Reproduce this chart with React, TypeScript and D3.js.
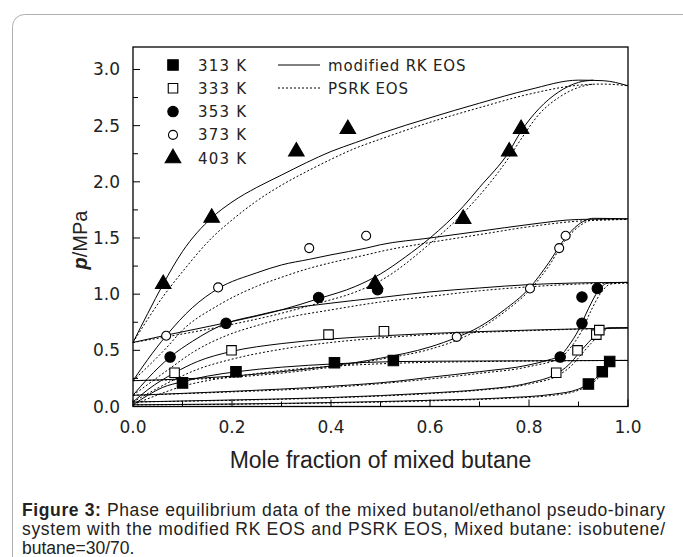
import React from "react";
import * as d3 from "d3";

type Pt = [number, number];

// Experimental data (x: mole fraction of mixed butane, p: MPa)
const exp313: Pt[] = [[0.100,0.21],[0.208,0.31],[0.407,0.39],[0.526,0.41],[0.920,0.20],[0.948,0.31],[0.963,0.40]];
const exp333: Pt[] = [[0.084,0.30],[0.199,0.50],[0.395,0.64],[0.507,0.67],[0.855,0.30],[0.898,0.50],[0.936,0.64],[0.942,0.68]];
const exp353: Pt[] = [[0.075,0.44],[0.188,0.74],[0.375,0.97],[0.494,1.04],[0.863,0.44],[0.907,0.74],[0.907,0.975],[0.938,1.05]];
const exp373: Pt[] = [[0.067,0.63],[0.172,1.06],[0.356,1.41],[0.471,1.52],[0.654,0.62],[0.802,1.05],[0.861,1.41],[0.874,1.52]];
const exp403: Pt[] = [[0.061,1.09],[0.159,1.68],[0.330,2.27],[0.434,2.47],[0.489,1.09],[0.667,1.67],[0.760,2.27],[0.784,2.47]];

// modified RK EOS (solid) - bubble and dew curves
const rk313b: Pt[] = [[0,0.015],[0.03,0.1],[0.06,0.17],[0.1,0.22],[0.15,0.27],[0.21,0.31],[0.3,0.35],[0.41,0.38],[0.53,0.40],[0.7,0.405],[1.0,0.41]];
const rk313d: Pt[] = [[0,0.015],[0.2,0.022],[0.4,0.035],[0.6,0.055],[0.74,0.075],[0.85,0.11],[0.9,0.155],[0.92,0.2],[0.948,0.31],[0.965,0.41],[1.0,0.41]];
const rk333b: Pt[] = [[0,0.04],[0.03,0.15],[0.084,0.30],[0.13,0.40],[0.199,0.49],[0.3,0.56],[0.395,0.60],[0.507,0.63],[0.6,0.65],[0.8,0.68],[1.0,0.70]];
const rk333d: Pt[] = [[0,0.04],[0.2,0.058],[0.4,0.08],[0.6,0.12],[0.7,0.15],[0.8,0.21],[0.855,0.29],[0.88,0.37],[0.9,0.47],[0.92,0.57],[0.94,0.655],[0.96,0.70],[1.0,0.70]];
const rk353b: Pt[] = [[0,0.10],[0.03,0.25],[0.075,0.44],[0.12,0.58],[0.188,0.74],[0.25,0.81],[0.3,0.86],[0.4,0.92],[0.5,0.97],[0.6,1.02],[0.7,1.055],[0.8,1.085],[0.9,1.1],[1.0,1.105]];
const rk353d: Pt[] = [[0,0.10],[0.2,0.135],[0.4,0.18],[0.533,0.225],[0.6,0.26],[0.7,0.31],[0.8,0.37],[0.84,0.415],[0.863,0.45],[0.88,0.54],[0.9,0.68],[0.92,0.87],[0.94,1.03],[0.96,1.1],[1.0,1.105]];
const rk373b: Pt[] = [[0,0.23],[0.03,0.42],[0.067,0.63],[0.12,0.88],[0.172,1.05],[0.25,1.19],[0.3,1.26],[0.356,1.31],[0.4,1.35],[0.471,1.41],[0.5,1.44],[0.6,1.5],[0.7,1.56],[0.8,1.62],[0.9,1.665],[1.0,1.67]];
const rk373d: Pt[] = [[0,0.23],[0.1,0.245],[0.2,0.27],[0.3,0.31],[0.4,0.36],[0.5,0.43],[0.6,0.53],[0.654,0.615],[0.7,0.71],[0.75,0.86],[0.8,1.05],[0.84,1.28],[0.87,1.48],[0.9,1.62],[0.93,1.675],[1.0,1.67]];
const rk403b: Pt[] = [[0,0.57],[0.03,0.83],[0.061,1.09],[0.1,1.38],[0.159,1.68],[0.2,1.82],[0.25,1.95],[0.3,2.06],[0.35,2.17],[0.4,2.27],[0.45,2.35],[0.5,2.43],[0.6,2.57],[0.7,2.70],[0.8,2.82],[0.9,2.905],[0.95,2.9],[1.0,2.855]];
const rk403d: Pt[] = [[0,0.57],[0.067,0.635],[0.188,0.745],[0.3,0.86],[0.375,0.96],[0.45,1.07],[0.5,1.18],[0.55,1.33],[0.6,1.5],[0.667,1.78],[0.7,1.95],[0.76,2.27],[0.784,2.45],[0.82,2.65],[0.86,2.8],[0.9,2.885],[0.93,2.905]];

// PSRK EOS (dotted) - bubble and dew curves
const ps313b: Pt[] = [[0,0.015],[0.06,0.12],[0.1,0.18],[0.15,0.23],[0.21,0.27],[0.3,0.32],[0.41,0.36],[0.53,0.385],[0.7,0.40],[1.0,0.41]];
const ps313d: Pt[] = [[0,0.015],[0.2,0.02],[0.4,0.032],[0.6,0.05],[0.74,0.07],[0.85,0.1],[0.9,0.145],[0.925,0.2],[0.952,0.31],[0.968,0.41],[1.0,0.41]];
const ps333b: Pt[] = [[0,0.04],[0.084,0.24],[0.13,0.33],[0.199,0.42],[0.3,0.51],[0.4,0.57],[0.5,0.61],[0.6,0.64],[0.8,0.675],[1.0,0.70]];
const ps333d: Pt[] = [[0,0.04],[0.2,0.055],[0.4,0.077],[0.6,0.115],[0.7,0.145],[0.8,0.2],[0.86,0.28],[0.885,0.36],[0.905,0.46],[0.925,0.56],[0.945,0.65],[0.965,0.70],[1.0,0.70]];
const ps353b: Pt[] = [[0,0.10],[0.075,0.34],[0.12,0.48],[0.188,0.63],[0.25,0.72],[0.3,0.78],[0.4,0.86],[0.5,0.93],[0.6,0.98],[0.7,1.03],[0.8,1.065],[0.9,1.09],[1.0,1.1]];
const ps353d: Pt[] = [[0,0.10],[0.2,0.13],[0.4,0.17],[0.6,0.245],[0.7,0.295],[0.8,0.355],[0.865,0.44],[0.885,0.53],[0.905,0.66],[0.925,0.85],[0.945,1.01],[0.965,1.09],[1.0,1.1]];
const ps373b: Pt[] = [[0,0.23],[0.067,0.52],[0.1,0.68],[0.172,0.9],[0.25,1.07],[0.3,1.15],[0.356,1.23],[0.4,1.28],[0.471,1.35],[0.5,1.38],[0.6,1.46],[0.7,1.53],[0.8,1.6],[0.9,1.65],[1.0,1.665]];
const ps373d: Pt[] = [[0,0.23],[0.2,0.26],[0.4,0.35],[0.5,0.42],[0.6,0.51],[0.654,0.59],[0.7,0.69],[0.75,0.84],[0.8,1.03],[0.84,1.25],[0.87,1.46],[0.9,1.6],[0.93,1.66],[1.0,1.665]];
const ps403b: Pt[] = [[0,0.57],[0.061,0.98],[0.1,1.2],[0.159,1.5],[0.2,1.66],[0.25,1.83],[0.3,1.97],[0.35,2.09],[0.4,2.2],[0.45,2.3],[0.5,2.38],[0.6,2.53],[0.7,2.66],[0.8,2.78],[0.9,2.86],[0.95,2.87],[1.0,2.855]];
const ps403d: Pt[] = [[0,0.57],[0.067,0.62],[0.188,0.72],[0.3,0.83],[0.375,0.92],[0.45,1.02],[0.5,1.12],[0.6,1.45],[0.667,1.72],[0.76,2.22],[0.784,2.38],[0.82,2.6],[0.86,2.75],[0.9,2.84],[0.93,2.87]];

const rkCurves: Pt[][] = [rk313b, rk313d, rk333b, rk333d, rk353b, rk353d, rk373b, rk373d, rk403b, rk403d];
const psCurves: Pt[][] = [ps313b, ps313d, ps333b, ps333d, ps353b, ps353d, ps373b, ps373d, ps403b, ps403d];

const xTicksMajor = [0, 0.2, 0.4, 0.6, 0.8, 1.0];
const xTicksMinor = [0.1, 0.3, 0.5, 0.7, 0.9];
const yTicksMajor = [0, 0.5, 1.0, 1.5, 2.0, 2.5, 3.0];
const yTicksMinor = [0.25, 0.75, 1.25, 1.75, 2.25, 2.75];

const legendLabels = ["313 K", "333 K", "353 K", "373 K", "403 K"];
type Marker = { shape: "square" | "circle" | "triangle"; filled: boolean };
const markers: Marker[] = [
  { shape: "square", filled: true },
  { shape: "square", filled: false },
  { shape: "circle", filled: true },
  { shape: "circle", filled: false },
  { shape: "triangle", filled: true },
];
const series: Pt[][] = [exp313, exp333, exp353, exp373, exp403];

const W = 683, H = 557;
const L = 133, R = 628, T = 47, B = 406.5;
const x = d3.scaleLinear().domain([0, 1]).range([L, R]);
const y = d3.scaleLinear().domain([0, 3.2]).range([B, T]);

const line = d3.line<Pt>().x(d => x(d[0])).y(d => y(d[1])).curve(d3.curveMonotoneX);

const symPath = (m: Marker) => {
  if (m.shape === "square") return d3.symbol().type(d3.symbolSquare).size(m.filled ? 110 : 90)()!;
  if (m.shape === "circle") return d3.symbol().type(d3.symbolCircle).size(m.filled ? 85 : 64)()!;
  return d3.symbol().type(d3.symbolTriangle).size(105)()!;
};

const Sym = ({ m, cx, cy }: { m: Marker; cx: number; cy: number }) => (
  <path
    d={symPath(m)}
    transform={`translate(${cx},${cy})`}
    fill={m.filled ? "#000" : "#fff"}
    stroke="#000"
    strokeWidth={1.1}
  />
);

const tickFont = "DejaVu Sans, sans-serif";
const captionFont = "'Liberation Sans Narrow', 'Liberation Sans', Arial, sans-serif";

export default function App() {
  return (
    <svg width={W} height={H} style={{ position: "absolute", left: 0, top: 0, background: "#fff" }}>
      <rect x={12.5} y={14.5} width={700} height={600} rx={12} fill="#fff" stroke="#b0b0b0" strokeWidth={1} />
      {/* curves */}
      <g fill="none" stroke="#000">
        {psCurves.map((c, i) => (
          <path key={"ps" + i} d={line(c)!} strokeWidth={1} strokeDasharray="2,2" />
        ))}
        {rkCurves.map((c, i) => (
          <path key={"rk" + i} d={line(c)!} strokeWidth={1} />
        ))}
      </g>
      {/* data */}
      {series.map((s, i) =>
        s.map((d, j) => <Sym key={i + "-" + j} m={markers[i]} cx={x(d[0])} cy={y(d[1])} />)
      )}
      {/* frame */}
      <rect x={L} y={T} width={R - L} height={B - T} fill="none" stroke="#000" strokeWidth={1.3} />
      {/* ticks */}
      <g stroke="#000" strokeWidth={1}>
        {xTicksMajor.map(t => <line key={"xm" + t} x1={x(t)} x2={x(t)} y1={B} y2={B - 7} />)}
        {xTicksMinor.map(t => <line key={"xn" + t} x1={x(t)} x2={x(t)} y1={B} y2={B - 5} />)}
        {yTicksMajor.map(t => <line key={"ym" + t} x1={L} x2={L + 7} y1={y(t)} y2={y(t)} />)}
        {yTicksMinor.map(t => <line key={"yn" + t} x1={L} x2={L + 5} y1={y(t)} y2={y(t)} />)}
      </g>
      <g fontFamily={tickFont} fontSize={17} fill="#222">
        {xTicksMajor.map(t => (
          <text key={"xl" + t} x={x(t)} y={433} textAnchor="middle">{t.toFixed(1)}</text>
        ))}
        {yTicksMajor.map(t => (
          <text key={"yl" + t} x={120} y={y(t) + 6} textAnchor="end">{t.toFixed(1)}</text>
        ))}
      </g>
      {/* axis titles */}
      <text x={(L + R) / 2} y={468} textAnchor="middle" fontFamily="Liberation Sans, Arial, sans-serif" fontSize={23} fill="#222">
        Mole fraction of mixed butane
      </text>
      <text transform="translate(87,240) rotate(-90)" textAnchor="middle" fontFamily="Liberation Sans, Arial, sans-serif" fontSize={20} fill="#222">
        <tspan fontWeight="bold" fontStyle="italic">p</tspan>/MPa
      </text>
      {/* legend */}
      {legendLabels.map((lab, i) => (
        <g key={lab}>
          <Sym m={markers[i]} cx={173} cy={65 + i * 23.3} />
          <text x={198} y={65 + i * 23.3 + 5.5} fontFamily={tickFont} fontSize={15} letterSpacing={1.2} fill="#222">{lab}</text>
        </g>
      ))}
      <line x1={278} x2={320} y1={65} y2={65} stroke="#000" strokeWidth={1} />
      <line x1={278} x2={320} y1={88} y2={88} stroke="#000" strokeWidth={1} strokeDasharray="2,2" />
      <text x={328} y={70.5} fontFamily={tickFont} fontSize={15} letterSpacing={0.8} fill="#222">modified RK EOS</text>
      <text x={328} y={93.5} fontFamily={tickFont} fontSize={15} letterSpacing={0.8} fill="#222">PSRK EOS</text>
      {/* caption */}
      <g fontFamily={captionFont} fontSize={17.5} fill="#222">
        <text x={22} y={516} textLength={643} lengthAdjust="spacing">
          <tspan fontWeight="bold">Figure 3:</tspan> Phase equilibrium data of the mixed butanol/ethanol pseudo-binary
        </text>
        <text x={22} y={535} textLength={643} lengthAdjust="spacing">
          system with the modified RK EOS and PSRK EOS, Mixed butane: isobutene/
        </text>
        <text x={22} y={554}>butane=30/70.</text>
      </g>
    </svg>
  );
}
